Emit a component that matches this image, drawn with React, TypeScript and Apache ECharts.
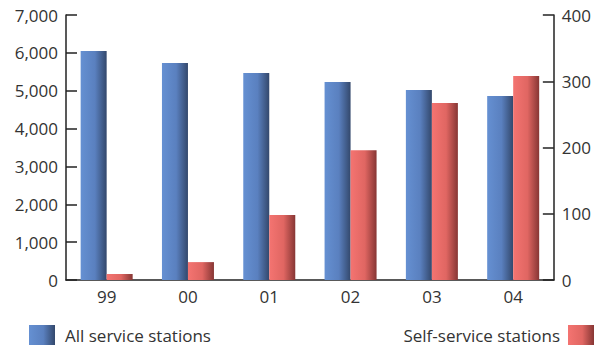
import React, { useEffect, useRef } from "react";
import * as echarts from "echarts";

const categories = ["99", "00", "01", "02", "03", "04"];
const allStations = [6050, 5730, 5470, 5230, 5020, 4860];
const selfService = [9, 27, 98, 196, 267, 308];
const leftTicks = { min: 0, max: 7000, interval: 1000 };
const rightTicks = { min: 0, max: 400, interval: 100 };

const FONT = "'Open Sans', sans-serif";
const TXT = "#333333";

export default function App() {
  const ref = useRef<HTMLDivElement>(null);
  useEffect(() => {
    if (!ref.current) return;
    const chart = echarts.init(ref.current, undefined, { renderer: "svg" });
    const blue = new echarts.graphic.LinearGradient(0, 0, 1, 0, [
      { offset: 0, color: "#6590d2" },
      { offset: 0.55, color: "#5a80bf" },
      { offset: 1, color: "#33486c" },
    ]);
    const red = new echarts.graphic.LinearGradient(0, 0, 1, 0, [
      { offset: 0, color: "#f47471" },
      { offset: 0.55, color: "#e06662" },
      { offset: 1, color: "#873634" },
    ]);
    const axisCommon = {
      axisLine: { show: true, lineStyle: { color: "#222", width: 1.5 } },
      axisTick: { show: true, inside: true, length: 11, lineStyle: { color: "#222", width: 1.5 } },
      splitLine: { show: false },
    };
    chart.setOption({
      animation: false,
      textStyle: { fontFamily: FONT },
      grid: { left: 66, right: 36, top: 15, bottom: 67, containLabel: false },
      legend: [
        {
          data: ["All service stations"],
          left: 29,
          top: 325,
          padding: 0,
          itemWidth: 26,
          itemHeight: 20,
          itemGap: 10,
          textStyle: { fontSize: 17, lineHeight: 20, color: TXT, fontFamily: FONT, padding: [0, 0, 0, 5] },
          icon: "rect",
        },
        {
          data: ["Self-service stations"],
          right: 0,
          top: 325,
          padding: 0,
          align: "right",
          itemWidth: 26,
          itemHeight: 20,
          itemGap: 10,
          textStyle: { fontSize: 17, lineHeight: 20, color: TXT, fontFamily: FONT, padding: [0, 3, 0, 0] },
          icon: "rect",
        },
      ],
      xAxis: {
        type: "category",
        data: categories,
        axisLine: { show: true, lineStyle: { color: "#222", width: 1.5 } },
        axisTick: { show: false },
        axisLabel: { fontSize: 17, color: TXT, margin: 8, fontFamily: FONT },
      },
      yAxis: [
        {
          type: "value",
          position: "left",
          ...leftTicks,
          ...axisCommon,
          axisLabel: {
            fontSize: 17,
            color: TXT,
            margin: 8,
            fontFamily: FONT,
            formatter: (v: number) => v.toLocaleString("en-US"),
          },
        },
        {
          type: "value",
          position: "right",
          ...rightTicks,
          ...axisCommon,
          axisLabel: { fontSize: 17, color: TXT, margin: 8, fontFamily: FONT },
        },
      ],
      series: [
        {
          name: "All service stations",
          type: "bar",
          yAxisIndex: 0,
          data: allStations,
          barWidth: 26,
          barGap: "0%",
          itemStyle: { color: blue },
        },
        {
          name: "Self-service stations",
          type: "bar",
          yAxisIndex: 1,
          data: selfService,
          barWidth: 26,
          barGap: "0%",
          itemStyle: { color: red },
        },
      ],
    });
    return () => chart.dispose();
  }, []);
  return <div ref={ref} style={{ width: 594, height: 347, position: "absolute", left: 0, top: 0 }} />;
}
